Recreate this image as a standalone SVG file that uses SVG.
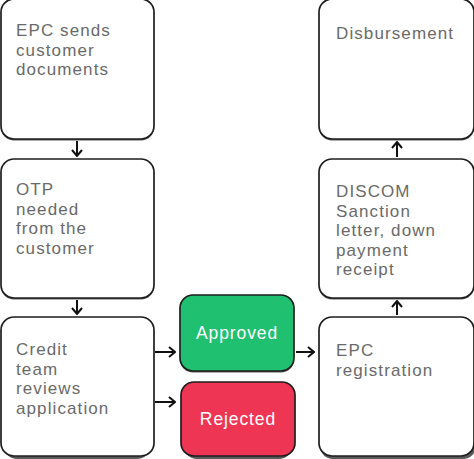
<svg xmlns="http://www.w3.org/2000/svg" width="474" height="459" viewBox="0 0 474 459">
<defs>
<style>
.box{fill:#ffffff;stroke:#1e1e1e;stroke-width:1.7}
.sh{fill:#5a5a5a}
.t{font-family:"Liberation Sans",Arial,sans-serif;font-size:17px;letter-spacing:1.1px;fill:#6a6a6a}
.w{font-family:"Liberation Sans",Arial,sans-serif;font-size:17.5px;letter-spacing:0.9px;fill:#ffffff;text-anchor:middle}
.c{fill:none;stroke:#111;stroke-width:2}
</style>
<marker id="ah" viewBox="0 0 12 12" refX="11" refY="6" markerWidth="12" markerHeight="12" markerUnits="userSpaceOnUse" orient="auto">
<path d="M5,1 L11,6 L5,11" fill="none" stroke="#111" stroke-width="2"/>
</marker>
</defs>
<rect width="474" height="459" fill="#ffffff"/>
<g id="n1">
<rect class="sh" x="1" y="0" width="153" height="140.5" rx="13"/>
<rect class="box" x="1" y="-1" width="153" height="140" rx="13"/>
<text class="t" x="16" y="36">EPC sends<tspan x="16" dy="19.5">customer</tspan><tspan x="16" dy="19.5">documents</tspan></text>
</g>
<g id="n2">
<rect class="sh" x="1" y="160" width="153" height="139.5" rx="13"/>
<rect class="box" x="1" y="159" width="153" height="139" rx="13"/>
<text class="t" x="16" y="195">OTP<tspan x="16" dy="19.5">needed</tspan><tspan x="16" dy="19.5">from the</tspan><tspan x="16" dy="19.5">customer</tspan></text>
</g>
<g id="n3">
<rect class="sh" x="4" y="320" width="146" height="139" rx="13"/>
<rect class="box" x="1" y="317" width="153" height="139" rx="13"/>
<text class="t" x="16" y="355">Credit<tspan x="16" dy="19.5">team</tspan><tspan x="16" dy="19.5">reviews</tspan><tspan x="16" dy="19.5">application</tspan></text>
</g>
<g id="approved">
<rect class="sh" x="180" y="296" width="114" height="76.5" rx="13"/>
<rect x="180" y="295" width="114" height="76" rx="13" fill="#1fc070" stroke="#1e1e1e" stroke-width="1.7"/>
<text class="w" x="237" y="339">Approved</text>
</g>
<g id="rejected">
<rect class="sh" x="184" y="384" width="108" height="75" rx="13"/>
<rect x="181" y="382" width="114" height="74" rx="13" fill="#ee3553" stroke="#1e1e1e" stroke-width="1.7"/>
<text class="w" x="238" y="425">Rejected</text>
</g>
<g id="n4">
<rect class="sh" x="319" y="0" width="155" height="140.5" rx="13"/>
<rect class="box" x="319" y="-1" width="155" height="140" rx="13"/>
<text class="t" x="336" y="39">Disbursement</text>
</g>
<g id="n5">
<rect class="sh" x="319" y="160" width="155" height="139.5" rx="13"/>
<rect class="box" x="319" y="159" width="155" height="139" rx="13"/>
<text class="t" x="336" y="197">DISCOM<tspan x="336" dy="19.5">Sanction</tspan><tspan x="336" dy="19.5">letter, down</tspan><tspan x="336" dy="19.5">payment</tspan><tspan x="336" dy="19.5">receipt</tspan></text>
</g>
<g id="n6">
<rect class="sh" x="320" y="320" width="156" height="139" rx="13"/>
<rect class="box" x="319" y="317" width="155" height="139" rx="13"/>
<text class="t" x="336" y="356">EPC<tspan x="336" dy="19.5">registration</tspan></text>
</g>
<g id="connectors">
<line class="c" x1="77" y1="141" x2="77" y2="156" marker-end="url(#ah)"/>
<line class="c" x1="77" y1="300" x2="77" y2="314" marker-end="url(#ah)"/>
<line class="c" x1="155" y1="352" x2="175" y2="352" marker-end="url(#ah)"/>
<line class="c" x1="155" y1="402" x2="175" y2="402" marker-end="url(#ah)"/>
<line class="c" x1="296" y1="352" x2="314" y2="352" marker-end="url(#ah)"/>
<line class="c" x1="397" y1="315" x2="397" y2="301" marker-end="url(#ah)"/>
<line class="c" x1="397" y1="157" x2="397" y2="142" marker-end="url(#ah)"/>
</g>
</svg>
